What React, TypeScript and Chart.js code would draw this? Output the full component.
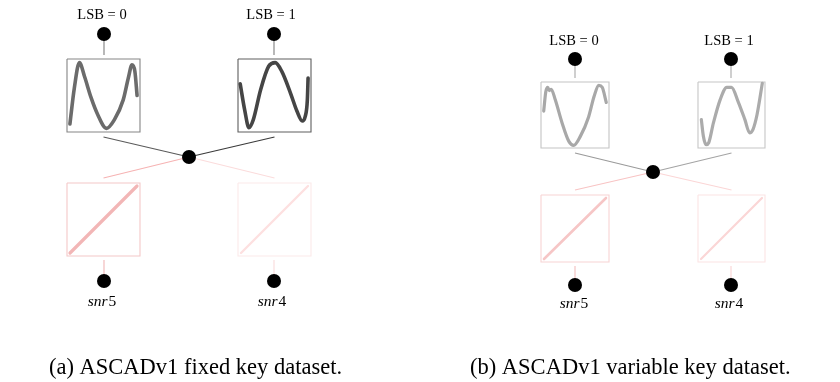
import React, { useEffect, useRef } from "react";
import { Chart, registerables } from "chart.js";
Chart.register(...registerables);

const W = 840;
const H = 382;

// Waveforms in unit-box coordinates (x 0..1 left->right, y 0..1 bottom->top)
const waveFixed0: [number, number][] = [
  [0.04, 0.11], [0.1, 0.6], [0.17, 0.95], [0.24, 0.76], [0.33, 0.47], [0.42, 0.24],
  [0.54, 0.05], [0.65, 0.17], [0.77, 0.44], [0.84, 0.74], [0.89, 0.92], [0.93, 0.83], [0.96, 0.5],
];
const waveFixed1: [number, number][] = [
  [0.03, 0.66], [0.09, 0.31], [0.15, 0.06], [0.21, 0.17], [0.31, 0.58], [0.42, 0.9],
  [0.51, 0.95], [0.6, 0.83], [0.72, 0.53], [0.81, 0.28], [0.88, 0.15], [0.92, 0.21],
  [0.95, 0.44], [0.96, 0.74],
];
const waveVar0: [number, number][] = [
  [0.04, 0.56], [0.07, 0.85], [0.1, 0.92], [0.12, 0.87], [0.15, 0.89], [0.21, 0.73],
  [0.31, 0.38], [0.41, 0.1], [0.48, 0.04], [0.58, 0.18], [0.7, 0.47], [0.78, 0.78],
  [0.85, 0.95], [0.9, 0.92], [0.96, 0.69],
];
const waveVar1: [number, number][] = [
  [0.05, 0.43], [0.08, 0.18], [0.12, 0.05], [0.16, 0.08], [0.23, 0.38], [0.33, 0.73],
  [0.43, 0.92], [0.5, 0.92], [0.6, 0.7], [0.7, 0.43], [0.77, 0.23], [0.82, 0.28],
  [0.88, 0.5], [0.96, 0.98],
];

// Diagram layout (diagram units)
const topLabels = ["LSB = 0", "LSB = 1"];
const bottomLabels = [["snr", "5"], ["snr", "4"]];
const captions = ["(a) ASCADv1 fixed key dataset.", "(b) ASCADv1 variable key dataset."];
const captionX = [49, 470];
const captionY = 374;

type Panel = {
  labelY: number;
  labelX: number[];
  topDots: [number, number][];
  topBoxes: [number, number, number, number][];
  center: [number, number];
  bottomBoxes: [number, number, number, number][];
  bottomDots: [number, number][];
  snrY: number;
  snrX: number[];
  waves: [number, number][][];
  waveColors: string[];
  waveWidth: number;
  boxColors: string[];
  topStem: string;
  topEdges: string[];
  redEdges: string[];
  redBox: string[];
  redDiag: string[];
  redDiagWidth: number[];
  redStem: string[];
};

const panels: Panel[] = [
  {
    labelY: 19,
    labelX: [102, 271],
    topDots: [[104, 34], [274, 34]],
    topBoxes: [[67, 59, 140, 132], [238, 59, 311, 132]],
    center: [189, 157],
    bottomBoxes: [[67, 183, 140, 256], [238, 183, 311, 256]],
    bottomDots: [[104, 281], [274, 281]],
    snrY: 306,
    snrX: [102, 272],
    waves: [waveFixed0, waveFixed1],
    waveColors: ["#6b6b6b", "#454545"],
    waveWidth: 3.6,
    boxColors: ["#858585", "#5e5e5e"],
    topStem: "#8a8a8a",
    topEdges: ["#5a5a5a", "#3a3a3a"],
    redEdges: ["#f6b3b3", "#fbdcdc"],
    redBox: ["#f4c8c8", "#fbeaea"],
    redDiag: ["#f2b6b6", "#fde0e0"],
    redDiagWidth: [3.2, 2.4],
    redStem: ["#f2bcbc", "#fbdede"],
  },
  {
    labelY: 45,
    labelX: [574, 729],
    topDots: [[575, 59], [731, 59]],
    topBoxes: [[541, 82, 609, 148], [698, 82, 765, 148]],
    center: [653, 172],
    bottomBoxes: [[541, 195, 609, 262], [698, 195, 765, 262]],
    bottomDots: [[575, 285], [731, 285]],
    snrY: 308,
    snrX: [574, 729],
    waves: [waveVar0, waveVar1],
    waveColors: ["#a8a8a8", "#ababab"],
    waveWidth: 3.2,
    boxColors: ["#c4c4c4", "#c6c6c6"],
    topStem: "#b0b0b0",
    topEdges: ["#9a9a9a", "#a4a4a4"],
    redEdges: ["#f8c4c4", "#fbd6d6"],
    redBox: ["#f7d4d4", "#fbe4e4"],
    redDiag: ["#f6c6c6", "#fbd6d6"],
    redDiagWidth: [2.6, 2.2],
    redStem: ["#f4c4c4", "#fad8d8"],
  },
];

function lineDs(points: { x: number; y: number }[], color: string, width: number, extra: any = {}) {
  return {
    type: "line" as const,
    data: points,
    borderColor: color,
    borderWidth: width,
    pointRadius: 0,
    showLine: true,
    fill: false,
    tension: 0,
    clip: false,
    order: 2,
    ...extra,
  };
}

function rect(b: [number, number, number, number]) {
  const [l, t, r, bt] = b;
  return [
    { x: l, y: t }, { x: r, y: t }, { x: r, y: bt }, { x: l, y: bt }, { x: l, y: t },
  ];
}

function buildDatasets() {
  const ds: any[] = [];
  panels.forEach((p) => {
    const [cx, cy] = p.center;
    p.topBoxes.forEach((b, i) => {
      const mx = (b[0] + b[2]) / 2;
      ds.push(lineDs([{ x: mx, y: b[3] + 5 }, { x: cx, y: cy }], p.topEdges[i], 1.1));
    });
    p.bottomBoxes.forEach((b, i) => {
      const mx = (b[0] + b[2]) / 2;
      ds.push(lineDs([{ x: cx, y: cy }, { x: mx, y: b[1] - 5 }], p.redEdges[i], 1.1));
    });
    p.topDots.forEach((d, i) => {
      ds.push(lineDs([{ x: d[0], y: d[1] }, { x: d[0], y: p.topBoxes[i][1] - 4 }], p.topStem, 1.2));
    });
    p.bottomDots.forEach((d, i) => {
      ds.push(lineDs([{ x: d[0], y: p.bottomBoxes[i][3] + 4 }, { x: d[0], y: d[1] }], p.redStem[i], 1.2));
    });
    p.topBoxes.forEach((b, i) => {
      ds.push(lineDs(rect(b), p.boxColors[i], 1.1));
      const [l, t, r, bt] = b;
      const pts = p.waves[i].map(([u, v]) => ({ x: l + u * (r - l), y: bt - v * (bt - t) }));
      ds.push(
        lineDs(pts, p.waveColors[i], p.waveWidth, {
          cubicInterpolationMode: "monotone",
          borderCapStyle: "round",
          borderJoinStyle: "round",
          order: 1,
        })
      );
    });
    p.bottomBoxes.forEach((b, i) => {
      ds.push(lineDs(rect(b), p.redBox[i], 1.1));
      const [l, t, r, bt] = b;
      ds.push(
        lineDs([{ x: l + 3, y: bt - 3 }, { x: r - 3, y: t + 3 }], p.redDiag[i], p.redDiagWidth[i], {
          borderCapStyle: "round",
          order: 1,
        })
      );
    });
    const dots = [...p.topDots, p.center, ...p.bottomDots].map(([x, y]) => ({ x, y }));
    ds.push({
      type: "scatter" as const,
      data: dots,
      pointRadius: 7,
      pointBackgroundColor: "#000",
      pointBorderColor: "#000",
      pointBorderWidth: 0,
      showLine: false,
      clip: false,
      order: 0,
    });
  });
  return ds;
}

const textPlugin = {
  id: "diagramText",
  afterDatasetsDraw(chart: any) {
    const ctx: CanvasRenderingContext2D = chart.ctx;
    const xs = chart.scales.x;
    const ys = chart.scales.y;
    ctx.save();
    ctx.fillStyle = "#000";
    ctx.textBaseline = "alphabetic";
    panels.forEach((p) => {
      ctx.font = '14.5px "Liberation Serif"';
      ctx.textAlign = "center";
      topLabels.forEach((t, i) => {
        ctx.fillText(t, xs.getPixelForValue(p.labelX[i]), ys.getPixelForValue(p.labelY));
      });
      bottomLabels.forEach(([a, b], i) => {
        ctx.textAlign = "left";
        ctx.font = 'italic 15.5px "Liberation Serif"';
        const wa = ctx.measureText(a).width;
        ctx.font = '15.5px "Liberation Serif"';
        const wb = ctx.measureText(b).width;
        const x0 = xs.getPixelForValue(p.snrX[i]) - (wa + wb + 1) / 2;
        const y = ys.getPixelForValue(p.snrY);
        ctx.font = 'italic 15.5px "Liberation Serif"';
        ctx.fillText(a, x0, y);
        ctx.font = '15.5px "Liberation Serif"';
        ctx.fillText(b, x0 + wa + 1, y);
      });
    });
    ctx.font = '22.5px "Liberation Serif"';
    ctx.textAlign = "left";
    captions.forEach((c, i) => {
      ctx.fillText(c, xs.getPixelForValue(captionX[i]), ys.getPixelForValue(captionY));
    });
    ctx.restore();
  },
};

export default function App() {
  const ref = useRef<HTMLCanvasElement>(null);
  useEffect(() => {
    document.body.style.margin = "0";
    const canvas = ref.current!;
    const chart = new Chart(canvas, {
      type: "scatter",
      data: { datasets: buildDatasets() },
      options: {
        responsive: false,
        animation: false,
        devicePixelRatio: 1,
        layout: { padding: 0, autoPadding: false },
        plugins: { legend: { display: false }, tooltip: { enabled: false } },
        events: [],
        scales: {
          x: { type: "linear", min: 0, max: W, display: false },
          y: { type: "linear", min: 0, max: H, reverse: true, display: false },
        },
      },
      plugins: [textPlugin],
    } as any);
    return () => chart.destroy();
  }, []);
  return (
    <div style={{ width: W, height: H, background: "#fff" }}>
      <canvas ref={ref} width={W} height={H} style={{ display: "block" }} />
    </div>
  );
}
